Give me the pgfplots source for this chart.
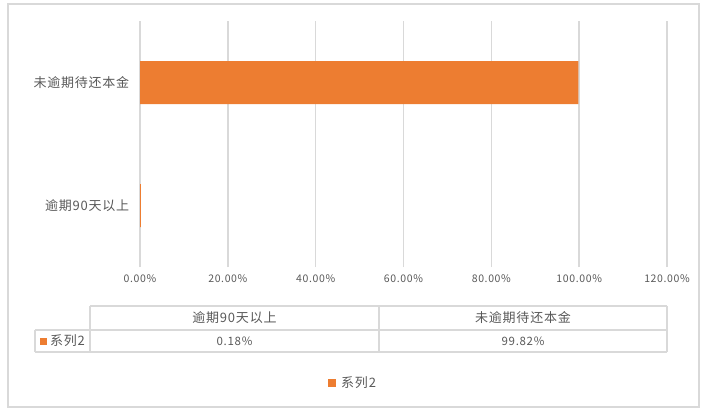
\documentclass[border=0pt]{standalone}
\usepackage{fontspec}
\setmainfont{Noto Sans CJK SC}
\newfontfamily\lab{Noto Sans CJK SC}[LetterSpace=6]
\usepackage{pgfplots}
\pgfplotsset{compat=1.18}
\definecolor{barorange}{HTML}{ED7D31}
\definecolor{gridgray}{HTML}{D9D9D9}
\definecolor{txtgray}{HTML}{595959}

\begin{document}
\begin{tikzpicture}[x=1pt,y=1pt]
\useasboundingbox (0,0) rectangle (708,-418);
% outer chart frame
\draw[gridgray, line width=1.4pt] (8,-4) rectangle (699,-407);

\begin{axis}[
    at={(140pt,-267pt)}, anchor=south west,
    scale only axis, width=527pt, height=246pt,
    xbar, bar width=43pt,
    xmin=0, xmax=120, ymin=-0.5, ymax=1.5,
    xtick={0,20,...,120},
    ytick={0,1},
    yticklabels={逾期90天以上,未逾期待还本金},
    xmajorgrids,
    grid style={gridgray, line width=1.4pt},
    axis line style={draw=none},
    major tick style={draw=none},
    /pgf/number format/assume math mode=true,
    xticklabel={\pgfmathprintnumber[fixed,fixed zerofill,precision=2]{\tick}\%},
    xticklabel style={font=\lab\fontsize{10.5}{12}\selectfont, text=txtgray, yshift=-4pt},
    yticklabel style={font=\lab\fontsize{13}{15}\selectfont, text=txtgray, xshift=-3pt},
]
\addplot[fill=barorange, draw=none] coordinates {(0.18,0) (99.82,1)};
\end{axis}

% data table below the chart
\begin{scope}[gridgray, line width=1.3pt]
\draw (90,-306) -- (667,-306);
\draw (35,-330) -- (667,-330);
\draw (35,-352) -- (667,-352);
\draw (90,-306) -- (90,-352);
\draw (379,-306) -- (379,-352);
\draw (667,-306) -- (667,-352);
\draw (35,-330) -- (35,-352);
\end{scope}
\begin{scope}[font=\lab\fontsize{13}{15}\selectfont, text=txtgray]
\node at (234.5,-318) {逾期90天以上};
\node at (523,-318) {未逾期待还本金};
\node[font=\lab\fontsize{11.5}{13}\selectfont] at (234.5,-341) {0.18\%};
\node[font=\lab\fontsize{11.5}{13}\selectfont] at (523,-341) {99.82\%};
\fill[barorange] (40,-337.5) rectangle (47,-344.5);
\node[anchor=west, inner sep=0pt] at (50,-341) {系列2};
% legend
\fill[barorange] (328,-379) rectangle (336,-387);
\node[anchor=west, inner sep=0pt] at (341,-383) {系列2};
\end{scope}
\end{tikzpicture}
\end{document}
